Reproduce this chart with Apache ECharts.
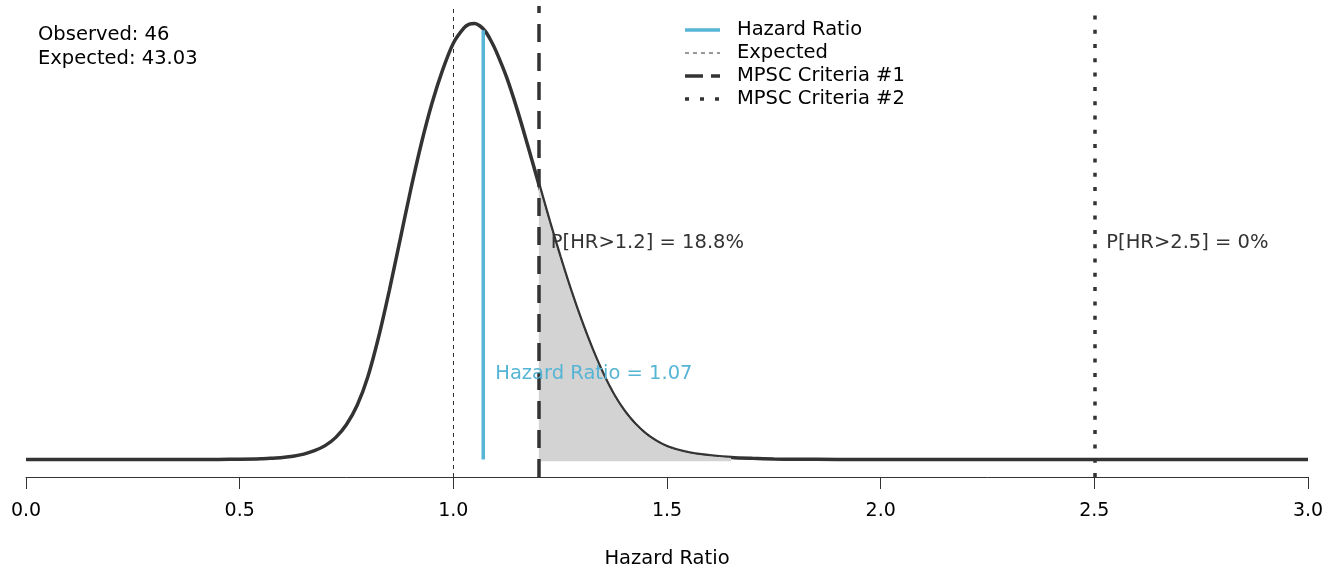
<!DOCTYPE html>
<html>
<head>
<meta charset="utf-8">
<script src="https://cdn.jsdelivr.net/npm/echarts@6/dist/echarts.min.js"></script>
<style>
  html, body { margin: 0; padding: 0; background: #fff; overflow: hidden; }
  #chart { width: 1329px; height: 574px; }
</style>
</head>
<body>
<div id="chart"></div>
<script>
// ---- data ----
const hrValues = [0.00, 0.10, 0.20, 0.30, 0.40, 0.45, 0.50, 0.55, 0.575, 0.60, 0.625, 0.65, 0.675, 0.70, 0.725,
  0.75, 0.775, 0.80, 0.825, 0.85, 0.875, 0.90, 0.925, 0.95, 0.975, 1.00, 1.025, 1.0375, 1.05, 1.0625,
  1.075, 1.0875, 1.10, 1.125, 1.15, 1.175, 1.20, 1.225, 1.25, 1.275, 1.30, 1.325, 1.35, 1.375, 1.40,
  1.425, 1.45, 1.475, 1.50, 1.525, 1.55, 1.575, 1.60, 1.65, 1.70, 1.75, 1.80, 1.90, 2.00, 2.25, 2.50, 2.75, 3.00];
const densityValues = [0, 0, 0, 0, 0, 0.001, 0.002, 0.005, 0.009, 0.014, 0.022, 0.036, 0.059, 0.093, 0.148,
  0.234, 0.362, 0.553, 0.816, 1.126, 1.461, 1.797, 2.107, 2.377, 2.600, 2.778, 2.880, 2.905, 2.910, 2.893,
  2.857, 2.798, 2.725, 2.548, 2.330, 2.087, 1.837, 1.587, 1.350, 1.126, 0.922, 0.737, 0.573, 0.434, 0.323,
  0.237, 0.171, 0.122, 0.086, 0.063, 0.046, 0.034, 0.026, 0.014, 0.008, 0.004, 0.002, 0.001, 0, 0, 0, 0, 0];
const xTickLabels = ['0.0', '0.5', '1.0', '1.5', '2.0', '2.5', '3.0'];
const observedCount = 46;
const expectedCount = '43.03';
const hazardRatio = 1.07;
const hazardRatioDensity = 2.864;
const expectedHR = 1.0;
const criteria1 = 1.2;
const criteria2 = 2.5;
const probCriteria1 = '18.8%';
const probCriteria2 = '0%';
const legendNames = ['Hazard Ratio', 'Expected', 'MPSC Criteria #1', 'MPSC Criteria #2'];

// ---- build ----
const curve = hrValues.map((x, i) => [x, densityValues[i]]);
const shaded = curve.filter(p => p[0] >= criteria1 && p[0] <= 1.65);

const dark = '#333333';
const blue = '#56b4d4';
const font = 'DejaVu Sans';
const yMax = 2.91;

const el = document.getElementById('chart');
const chart = echarts.init(el, null, { renderer: 'canvas', width: 1329, height: 574 });

const option = {
  animation: false,
  backgroundColor: '#ffffff',
  grid: { left: 26, width: 1282, top: 6, height: 477, containLabel: false },
  xAxis: {
    type: 'value', min: 0, max: 3, interval: 0.5,
    axisLine: { show: true, onZero: false, lineStyle: { color: dark, width: 1 } },
    axisTick: { show: true, length: 12, lineStyle: { color: dark, width: 1 } },
    axisLabel: { margin: 25, fontFamily: font, fontSize: 19, color: '#000',
      formatter: (v) => xTickLabels[Math.round(v / 0.5)] },
    splitLine: { show: false },
    name: 'Hazard Ratio', nameLocation: 'middle', nameGap: 72,
    nameTextStyle: { fontFamily: font, fontSize: 19.5, color: '#000', verticalAlign: 'top' }
  },
  yAxis: {
    type: 'value', min: -0.04 * yMax, max: 1.04 * yMax, show: false,
    splitLine: { show: false }
  },
  series: [
    {
      name: 'density', type: 'line', data: curve, showSymbol: false, symbol: 'none',
      smooth: 0.3, lineStyle: { color: dark, width: 3.5 }, z: 3,
      markLine: {
        silent: true, symbol: 'none', animation: false,
        label: { show: false },
        data: [
          { xAxis: expectedHR, lineStyle: { color: dark, width: 1, type: [4, 4] } },
          { xAxis: criteria1, lineStyle: { color: dark, width: 3.5, type: [18, 11] } },
          { xAxis: criteria2, lineStyle: { color: dark, width: 3.5, type: [4, 10.3] } }
        ]
      }
    },
    {
      name: 'shade', type: 'line', data: shaded, showSymbol: false, symbol: 'none',
      smooth: 0.3, lineStyle: { color: dark, width: 1 },
      areaStyle: { color: '#d3d3d3', opacity: 1, origin: -0.011 }, z: 4
    },
    {
      name: 'hr', type: 'line', data: [[hazardRatio, 0], [hazardRatio, hazardRatioDensity]],
      showSymbol: false, symbol: 'none', lineStyle: { color: blue, width: 3.5 }, z: 5
    },
    {
      name: 'labels', type: 'scatter', symbolSize: 0, z: 6, silent: true,
      itemStyle: { opacity: 1 },
      data: [
        { value: [criteria1, 1.445], label: { formatter: 'P[HR>' + criteria1 + '] = ' + probCriteria1, color: dark } },
        { value: [criteria2, 1.445], label: { formatter: 'P[HR>' + criteria2 + '] = ' + probCriteria2, color: dark } },
        { value: [hazardRatio, 0.568], label: { formatter: 'Hazard Ratio = ' + hazardRatio, color: blue } }
      ],
      label: { show: true, position: 'right', distance: 12, fontFamily: font, fontSize: 19.5, opacity: 1 }
    }
  ]
};

chart.setOption(option);

// text block and legend
const txtFont = '19.5px "' + font + '"';
const g = [];
g.push({ type: 'text', x: 38, y: 35, style: { text: 'Observed: ' + observedCount, font: txtFont, fill: '#000', verticalAlign: 'middle' } });
g.push({ type: 'text', x: 38, y: 59, style: { text: 'Expected: ' + expectedCount, font: txtFont, fill: '#000', verticalAlign: 'middle' } });
const legendX = 685, legendTextX = 737, legendY0 = 30, legendStep = 23;
const legendStyles = [
  { stroke: blue, lineWidth: 3.5, lineDash: null },
  { stroke: dark, lineWidth: 1, lineDash: [4, 4] },
  { stroke: dark, lineWidth: 3.5, lineDash: [18, 8] },
  { stroke: dark, lineWidth: 3.5, lineDash: [4, 11] }
];
legendNames.forEach((name, i) => {
  const y = legendY0 + i * legendStep;
  g.push({ type: 'line', shape: { x1: legendX, y1: y, x2: legendX + 35, y2: y },
    style: Object.assign({}, legendStyles[i]), z: 10 });
  g.push({ type: 'text', x: legendTextX, y: y, style: { text: name, font: txtFont, fill: '#000', verticalAlign: 'middle' }, z: 10 });
});
chart.setOption({ graphic: g });
</script>
</body>
</html>
